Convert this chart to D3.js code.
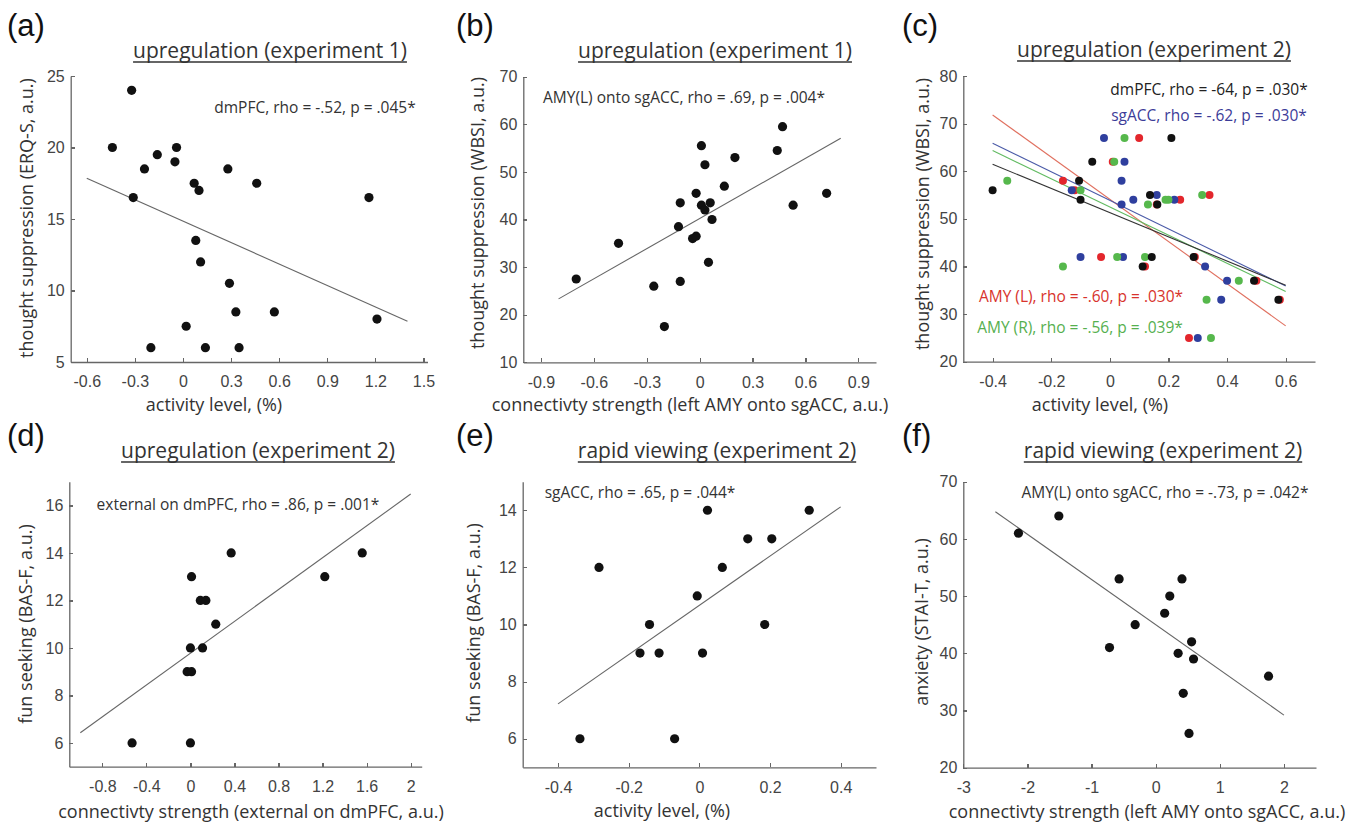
<!DOCTYPE html>
<meta charset="utf-8">
<style>
body { margin: 0; background: #fff; }
svg { font-family: "Open Sans", "Noto Sans", sans-serif; }
.tick-label { fill: #444; font-size: 16px; }
.axis-label { fill: #333; font-size: 18px; }
.title { fill: #333; font-size: 21px; }
.note { font-size: 15.5px; }
.panel-label { font-family: "Liberation Sans", Arial, sans-serif; font-size: 31px; fill: #111; }
.axis line { stroke: #666; stroke-width: 1.2; shape-rendering: crispEdges; }
</style>
<body>
<script src="https://cdnjs.cloudflare.com/ajax/libs/d3/7.8.5/d3.min.js"></script>
<script>
// ---- data ----

// (a) upregulation exp 1, dmPFC activity vs ERQ-S
var aX = [-0.32, -0.44, -0.04, -0.16, -0.05, -0.24, 0.28, 0.07, 0.46, 0.10, -0.31, 1.16,
          0.08, 0.11, 0.29, 0.33, 0.57, 1.21, 0.02, -0.20, 0.14, 0.35];
var aY = [24, 20, 20, 19.5, 19, 18.5, 18.5, 17.5, 17.5, 17, 16.5, 16.5,
          13.5, 12, 10.5, 8.5, 8.5, 8, 7.5, 6, 6, 6];
var aFit = [-0.6, 1.4, 14.85, -5.0];   // x from, x to, intercept, slope

// (b) upregulation exp 1, AMY(L) onto sgACC vs WBSI
var bX = [0.47, 0.01, 0.44, 0.20, 0.03, 0.14, -0.02, 0.72, -0.11, 0.06, 0.01, 0.53,
          0.03, 0.07, -0.12, -0.46, -0.04, -0.02, 0.05, -0.70, -0.26, -0.11, -0.20];
var bY = [59.5, 55.5, 54.5, 53, 51.5, 47, 45.5, 45.5, 43.5, 43.5, 43, 43,
          42, 40, 38.5, 35, 36, 36.5, 31, 27.5, 26, 27, 17.5];
var bFit = [-0.8, 0.8, 40.2, 21.1];

// (c) upregulation exp 2, four regions vs WBSI
var cRedX   = [0.10, -0.16, -0.12, 0.24, 0.34, -0.03, 0.29, 0.12, 0.50, 0.58, 0.27, 0.01, 0.16];
var cRedY   = [67, 58, 56, 54, 55, 42, 42, 40, 37, 33, 25, 62, 53];
var cBlueX  = [-0.02, 0.05, 0.04, -0.13, 0.16, 0.08, 0.22, 0.04, -0.10, 0.045, 0.325, 0.40, 0.38, 0.30];
var cBlueY  = [67, 62, 58, 56, 55, 54, 54, 53, 42, 42, 40, 37, 33, 25];
var cGreenX = [0.05, 0.015, -0.35, -0.10, 0.315, 0.19, 0.13, 0.025, 0.12, -0.16, 0.44, 0.33, 0.345, 0.20];
var cGreenY = [67, 62, 58, 56, 55, 54, 53, 42, 42, 40, 37, 33, 25, 54];
var cBlackX = [0.21, -0.06, -0.105, -0.40, 0.137, -0.10, 0.162, 0.286, 0.143, 0.112, 0.492, 0.575];
var cBlackY = [67, 62, 58, 56, 55, 54, 53, 42, 42, 40, 37, 33];
var cRedFit   = [-0.4, 0.6, 54.1, -44.3];
var cBlueFit  = [-0.4, 0.6, 53.9, -30.0];
var cGreenFit = [-0.4, 0.6, 52.5, -29.6];
var cBlackFit = [-0.4, 0.6, 51.3, -25.4];

// (d) upregulation exp 2, external on dmPFC vs BAS-F
var dX = [0.37, 1.56, 0.01, 1.22, 0.09, 0.14, 0.23, 0.00, 0.11, -0.03, 0.01, -0.53, 0.00];
var dY = [14, 14, 13, 13, 12, 12, 11, 10, 10, 9, 9, 6, 6];
var dFit = [-1.0, 2.0, 9.78, 3.35];

// (e) rapid viewing exp 2, sgACC activity vs BAS-F
var eX = [0.023, 0.311, 0.137, 0.205, -0.284, 0.065, -0.006, -0.141, 0.185, -0.168, -0.114, 0.009, -0.338, -0.07];
var eY = [14, 14, 13, 13, 12, 12, 11, 10, 10, 9, 9, 9, 6, 6];
var eFit = [-0.4, 0.4, 10.67, 8.625];

// (f) rapid viewing exp 2, AMY(L) onto sgACC vs STAI-T
var fX = [-1.51, -2.14, -0.57, 0.41, 0.22, 0.14, -0.32, 0.56, -0.72, 0.35, 0.59, 1.76, 0.43, 0.52];
var fY = [64, 61, 53, 53, 50, 47, 45, 42, 41, 40, 39, 36, 33, 26];
var fFit = [-2.5, 2.0, 45.0, -7.9];

// tick values and labels
var aXTicks = [-0.6, -0.3, 0, 0.3, 0.6, 0.9, 1.2, 1.5];
var aXTickLabels = ["-0.6", "-0.3", "0", "0.3", "0.6", "0.9", "1.2", "1.5"];
var aYTicks = [5, 10, 15, 20, 25];
var bXTicks = [-0.9, -0.6, -0.3, 0, 0.3, 0.6, 0.9];
var bXTickLabels = ["-0.9", "-0.6", "-0.3", "0", "0.3", "0.6", "0.9"];
var bYTicks = [10, 20, 30, 40, 50, 60, 70];
var cXTicks = [-0.4, -0.2, 0, 0.2, 0.4, 0.6];
var cXTickLabels = ["-0.4", "-0.2", "0", "0.2", "0.4", "0.6"];
var cYTicks = [20, 30, 40, 50, 60, 70, 80];
var dXTicks = [-0.8, -0.4, 0, 0.4, 0.8, 1.2, 1.6, 2];
var dXTickLabels = ["-0.8", "-0.4", "0", "0.4", "0.8", "1.2", "1.6", "2"];
var dYTicks = [6, 8, 10, 12, 14, 16];
var eXTicks = [-0.4, -0.2, 0, 0.2, 0.4];
var eXTickLabels = ["-0.4", "-0.2", "0", "0.2", "0.4"];
var eYTicks = [6, 8, 10, 12, 14];
var fXTicks = [-3, -2, -1, 0, 1, 2];
var fXTickLabels = ["-3", "-2", "-1", "0", "1", "2"];
var fYTicks = [20, 30, 40, 50, 60, 70];

// ---- layout ----
var svg = d3.select("body").append("svg")
  .attr("width", 1363)
  .attr("height", 823);

var dotColor = "#111", fitColor = "#666";

var panels = [
  { label: "(a)", lx: 7, ly: 36, title: "upregulation (experiment 1)", tx: 270, ty: 58,
    box: [70.7, 76, 427.5, 362], xDom: [-0.7, 1.525], yDom: [5, 25],
    xTicks: aXTicks, xLabels: aXTickLabels, yTicks: aYTicks,
    xTitle: "activity level, (%)", xtx: 214, xty: 411,
    yTitle: "thought suppression (ERQ-S, a.u.)", ytx: 33, yty: 218,
    series: [{ x: aX, y: aY, fit: aFit, dot: dotColor, line: fitColor }],
    notes: [{ text: "dmPFC, rho = -.52, p = .045*", x: 315, y: 113, color: "#333" }] },
  { label: "(b)", lx: 456, ly: 36, title: "upregulation (experiment 1)", tx: 715, ty: 58,
    box: [523.3, 76.7, 876, 362.3], xDom: [-1, 1], yDom: [10, 70],
    xTicks: bXTicks, xLabels: bXTickLabels, yTicks: bYTicks,
    xTitle: "connectivty strength (left AMY onto sgACC, a.u.)", xtx: 690, xty: 411,
    yTitle: "thought suppression (WBSI, a.u.)", ytx: 484, yty: 213,
    series: [{ x: bX, y: bY, fit: bFit, dot: dotColor, line: fitColor }],
    notes: [{ text: "AMY(L) onto sgACC, rho = .69, p = .004*", x: 684, y: 103, color: "#333" }] },
  { label: "(c)", lx: 902, ly: 36, title: "upregulation (experiment 2)", tx: 1154, ty: 57,
    box: [963.3, 76, 1315, 361.7], xDom: [-0.5, 0.7], yDom: [20, 80], r: 4,
    xTicks: cXTicks, xLabels: cXTickLabels, yTicks: cYTicks,
    xTitle: "activity level, (%)", xtx: 1100, xty: 411,
    yTitle: "thought suppression (WBSI, a.u.)", ytx: 929, yty: 214,
    series: [
      { x: cRedX, y: cRedY, fit: cRedFit, dot: "#e3262c", line: "#e0705f" },
      { x: cBlueX, y: cBlueY, fit: cBlueFit, dot: "#2f3f9e", line: "#4b5ba8" },
      { x: cGreenX, y: cGreenY, fit: cGreenFit, dot: "#56b84c", line: "#62bb62" },
      { x: cBlackX, y: cBlackY, fit: cBlackFit, dot: "#111", line: "#333" }
    ],
    notes: [
      { text: "dmPFC, rho = -64, p = .030*", x: 1209, y: 95, color: "#222" },
      { text: "sgACC, rho = -.62, p = .030*", x: 1209, y: 121, color: "#3c3c98" },
      { text: "AMY (L), rho = -.60, p = .030*", x: 1081, y: 302, color: "#d8332c" },
      { text: "AMY (R), rho = -.56, p = .039*", x: 1080, y: 333, color: "#56b04f" }
    ] },
  { label: "(d)", lx: 7, ly: 446, title: "upregulation (experiment 2)", tx: 258, ty: 458,
    box: [69.3, 481.7, 421.7, 766.7], xDom: [-1.1, 2.1], yDom: [5, 17],
    xTicks: dXTicks, xLabels: dXTickLabels, yTicks: dYTicks,
    xTitle: "connectivty strength (external on dmPFC, a.u.)", xtx: 251, xty: 818,
    yTitle: "fun seeking (BAS-F, a.u.)", ytx: 32, yty: 624,
    series: [{ x: dX, y: dY, fit: dFit, dot: dotColor, line: fitColor }],
    notes: [{ text: "external on dmPFC, rho = .86, p = .001*", x: 238, y: 510, color: "#333" }] },
  { label: "(e)", lx: 456, ly: 446, title: "rapid viewing (experiment 2)", tx: 717, ty: 458,
    box: [522.7, 481.7, 876, 767.3], xDom: [-0.5, 0.5], yDom: [5, 15],
    xTicks: eXTicks, xLabels: eXTickLabels, yTicks: eYTicks,
    xTitle: "activity level, (%)", xtx: 662, xty: 817,
    yTitle: "fun seeking (BAS-F, a.u.)", ytx: 480, yty: 623,
    series: [{ x: eX, y: eY, fit: eFit, dot: dotColor, line: fitColor }],
    notes: [{ text: "sgACC, rho = .65, p = .044*", x: 640, y: 498, color: "#333" }] },
  { label: "(f)", lx: 902, ly: 446, title: "rapid viewing (experiment 2)", tx: 1163, ty: 458,
    box: [963.3, 481.7, 1316, 767.7], xDom: [-3, 2.5], yDom: [20, 70],
    xTicks: fXTicks, xLabels: fXTickLabels, yTicks: fYTicks,
    xTitle: "connectivty strength (left AMY onto sgACC, a.u.)", xtx: 1147, xty: 818,
    yTitle: "anxiety (STAI-T, a.u.)", ytx: 928, yty: 622,
    series: [{ x: fX, y: fY, fit: fFit, dot: dotColor, line: fitColor }],
    notes: [{ text: "AMY(L) onto sgACC, rho = -.73, p = .042*", x: 1165, y: 498, color: "#333" }] }
];

panels.forEach(drawPanel);

function drawPanel(p) {
  var g = svg.append("g");
  var x = d3.scaleLinear().domain(p.xDom).range([p.box[0], p.box[2]]);
  var y = d3.scaleLinear().domain(p.yDom).range([p.box[3], p.box[1]]);
  var r = p.r || 4.6;

  // axes: only left and bottom, ticks pointing inward
  var xAxis = d3.axisBottom(x).tickValues(p.xTicks).tickSizeInner(-4).tickSizeOuter(0)
    .tickFormat(function (d, i) { return p.xLabels[i]; });
  var yAxis = d3.axisLeft(y).tickValues(p.yTicks).tickSizeInner(-4).tickSizeOuter(0)
    .tickFormat(function (d) { return String(d); });

  var gx = g.append("g").attr("class", "axis")
    .attr("transform", "translate(0," + p.box[3] + ")")
    .call(xAxis);
  var gy = g.append("g").attr("class", "axis")
    .attr("transform", "translate(" + p.box[0] + ",0)")
    .call(yAxis);

  [gx, gy].forEach(function (a) {
    a.select(".domain").attr("stroke", "#666").attr("stroke-width", 1.3);
    a.selectAll("text").attr("class", "tick-label").attr("font-family", null).attr("font-size", null);
  });
  gx.selectAll(".tick text").attr("y", 14);
  gy.selectAll(".tick text").attr("x", -6);

  // regression lines
  p.series.forEach(function (s) {
    var f = s.fit;
    g.append("line")
      .attr("x1", x(f[0])).attr("y1", y(f[2] + f[3] * f[0]))
      .attr("x2", x(f[1])).attr("y2", y(f[2] + f[3] * f[1]))
      .attr("stroke", s.line).attr("stroke-width", 1.1);
  });

  // dots
  p.series.forEach(function (s) {
    g.append("g").selectAll("circle")
      .data(d3.range(s.x.length))
      .join("circle")
      .attr("cx", function (i) { return x(s.x[i]); })
      .attr("cy", function (i) { return y(s.y[i]); })
      .attr("r", r)
      .attr("fill", s.dot);
  });

  // correlation notes
  p.notes.forEach(function (n) {
    g.append("text").attr("class", "note")
      .attr("x", n.x).attr("y", n.y)
      .attr("text-anchor", "middle")
      .attr("fill", n.color)
      .text(n.text);
  });

  // underlined title
  var t = g.append("text").attr("class", "title")
    .attr("x", p.tx).attr("y", p.ty)
    .attr("text-anchor", "middle")
    .text(p.title);
  var w = t.node().getComputedTextLength();
  g.append("line")
    .attr("x1", p.tx - w / 2).attr("x2", p.tx + w / 2)
    .attr("y1", p.ty + 4).attr("y2", p.ty + 4)
    .attr("stroke", "#333").attr("stroke-width", 1.3);

  // axis titles
  g.append("text").attr("class", "axis-label")
    .attr("x", p.xtx).attr("y", p.xty)
    .attr("text-anchor", "middle")
    .text(p.xTitle);
  g.append("text").attr("class", "axis-label")
    .attr("transform", "translate(" + p.ytx + "," + p.yty + ") rotate(-90)")
    .attr("text-anchor", "middle")
    .text(p.yTitle);

  // panel letter
  g.append("text").attr("class", "panel-label")
    .attr("x", p.lx).attr("y", p.ly)
    .text(p.label);
}
</script>
</body>
